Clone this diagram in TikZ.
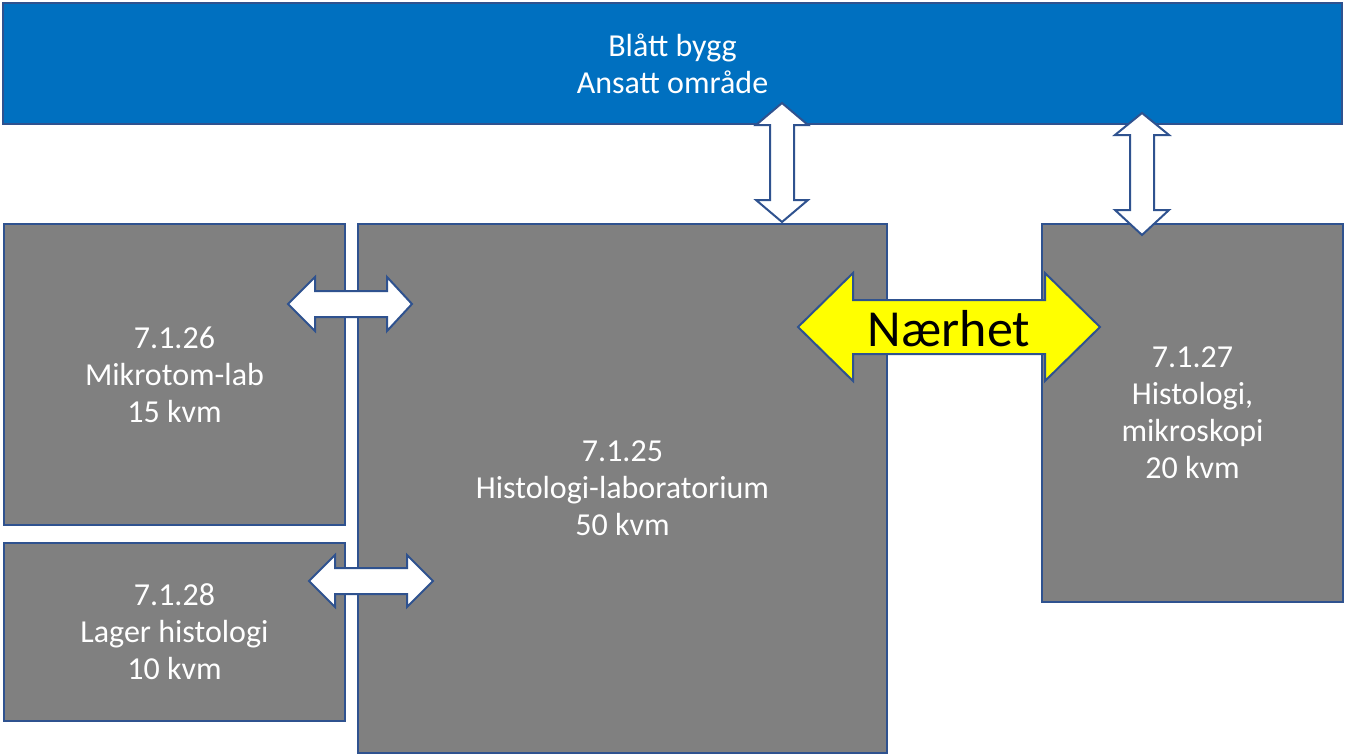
\documentclass[tikz,border=0pt]{standalone}
\usepackage{fontspec}
\setmainfont{Carlito}
\definecolor{bordercol}{HTML}{2F528F}
\definecolor{bluefill}{HTML}{0070C0}
\definecolor{grayfill}{HTML}{808080}
\definecolor{yellowfill}{HTML}{FFFF00}
\begin{document}
\begin{tikzpicture}[x=1pt,y=-1pt,
  room/.style={draw=bordercol, fill=grayfill, line width=2pt, anchor=north west, inner sep=0pt, align=center, text=white, font=\fontsize{32}{37}\selectfont},
  topbox/.style={room, fill=bluefill},
  blockarrow/.style={draw=bordercol, fill=white, line width=2pt, line join=miter},
  yarrow/.style={blockarrow, fill=yellowfill}]
\useasboundingbox (0,0) rectangle (1345,755);
\fill[white] (0,0) rectangle (1345,755);
% boxes
\node[topbox, minimum width=1339pt, minimum height=121pt] (blue) at (2,2) {Blått bygg\\Ansatt område};
\node[room, minimum width=341pt, minimum height=301pt] (mikrotom) at (3,223) {7.1.26\\Mikrotom-lab\\15 kvm};
\node[room, minimum width=341pt, minimum height=178pt] (lager) at (3,542) {7.1.28\\Lager histologi\\10 kvm};
\node[room, minimum width=529pt, minimum height=529pt] (lab) at (357,223) {7.1.25\\Histologi-laboratorium\\50 kvm};
\node[room, minimum width=301pt, minimum height=378pt] (mikroskopi) at (1041,223) {7.1.27\\Histologi,\\mikroskopi\\20 kvm};
% vertical arrows
\draw[blockarrow] (782,103) -- (808,125) -- (794,125) -- (794,200) -- (808,200) -- (782,222) -- (756,200) -- (770,200) -- (770,125) -- (756,125) -- cycle;
\draw[blockarrow] (1142,113) -- (1169,135) -- (1154,135) -- (1154,210) -- (1169,210) -- (1142,235) -- (1115,210) -- (1130,210) -- (1130,135) -- (1115,135) -- cycle;
% horizontal arrows
\draw[blockarrow] (288,304) -- (315,277) -- (315,291) -- (387,291) -- (387,277) -- (412,304) -- (387,331) -- (387,317) -- (315,317) -- (315,331) -- cycle;
\draw[blockarrow] (309,581) -- (335,555) -- (335,568) -- (407,568) -- (407,555) -- (433,581) -- (407,607) -- (407,594) -- (335,594) -- (335,607) -- cycle;
% Naerhet arrow
\draw[yarrow] (798,327) -- (853,273) -- (853,300) -- (1045,300) -- (1045,273) -- (1100,327) -- (1045,381) -- (1045,354) -- (853,354) -- (853,381) -- cycle;
\node[font=\fontsize{52}{56}\selectfont, inner sep=0pt] (naerhet) at (949,329) {Nærhet};
\end{tikzpicture}
\end{document}
